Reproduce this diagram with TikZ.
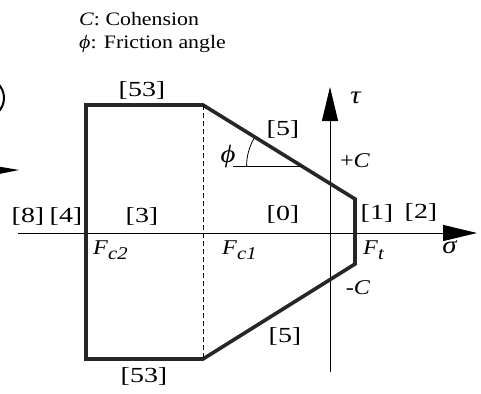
\documentclass[tikz,border=0pt]{standalone}
\usepackage{fontspec}
\setmainfont[FakeStretch=1.15]{Liberation Serif}
\newfontfamily\regionfont[FakeStretch=1.3]{Liberation Serif}
\usetikzlibrary{arrows.meta}

\newcommand{\fsub}[2]{\textit{#1}\raisebox{-0.45ex}{\fontsize{18}{18}\selectfont\textit{#2}}}

\begin{document}
\begin{tikzpicture}[
    x=1pt, y=-1pt,
    every node/.style={inner sep=0pt, font=\fontsize{21}{21}\selectfont},
    region/.style={font=\regionfont\fontsize{21.5}{21.5}\selectfont},
    greek/.style={anchor=base, font=\fontsize{25}{25}\selectfont},
    note/.style={anchor=west, font=\fontsize{19}{19}\selectfont},
    envelope/.style={line width=3.6pt, line join=miter, draw=black!85},
    axis/.style={line width=0.9pt, -{Triangle[length=34pt, width=16pt]}},
    cutoff/.style={dashed, dash pattern=on 5pt off 3pt, line width=0.9pt},
    fval/.style={anchor=north west}
  ]
  \useasboundingbox (0,0) rectangle (481,393);

  % fragments of the neighbouring figure
  \draw[line width=2pt] (-16,98) circle[radius=20];
  \fill (-16,164) -- (19,170) -- (-16,177) -- cycle;

  \node[note] (coh)  at (79,19) {\textit{C}: Cohension};
  \node[note] (fric) at (79,44) {\textit{ϕ}: Friction angle};

  % axes
  \coordinate (sig0) at (18,233);
  \coordinate (sig1) at (477,233);
  \coordinate (tau0) at (330,372);
  \coordinate (tau1) at (330,87);
  \draw[axis] (sig0) -- (sig1);
  \draw[axis] (tau0) -- (tau1);

  % yield envelope
  \coordinate (tl) at (86,105);
  \coordinate (tr) at (203,105);
  \coordinate (rt) at (355,199);
  \coordinate (rb) at (355,264);
  \coordinate (br) at (203,359);
  \coordinate (bl) at (86,359);
  \draw[envelope] (tl) -- (tr) -- (rt) -- (rb) -- (br) -- (bl) -- cycle;
  \draw[cutoff] (tr) -- (br);

  % friction angle
  \coordinate (phiv) at (301.6,166);
  \coordinate (phih) at (233,166);
  \draw[line width=0.8pt] (phih) -- (phiv);
  \draw[line width=0.8pt] (phiv) ++(-55,0) arc[start angle=180, end angle=211.7, radius=55];
  \node[greek] (phi) at (228,162) {\textit{ϕ}};

  % region numbers
  \node[region] (top53) at (142,90)  {[53]};
  \node[region] (bot53) at (144,376) {[53]};
  \node[region] (r8)    at (28,216)  {[8]};
  \node[region] (r4)    at (66,216)  {[4]};
  \node[region] (r3)    at (142,216) {[3]};
  \node[region] (r0)    at (283,214) {[0]};
  \node[region] (r1)    at (377,213) {[1]};
  \node[region] (r2)    at (421,212) {[2]};
  \node[region] (up5)   at (283,129) {[5]};
  \node[region] (lo5)   at (285,336) {[5]};

  \node (pc)  at (355,161) {+\textit{C}};
  \node (mc)  at (358,288) {-\textit{C}};
  \node[greek] (tau) at (356,103) {\textit{τ}};
  \node[greek] (sig) at (450,253) {\textit{σ}};

  \node[fval] (fc2) at (93,241)  {\fsub{F}{c2}};
  \node[fval] (fc1) at (222,241) {\fsub{F}{c1}};
  \node[fval] (ft)  at (363,241) {\fsub{F}{t}};
\end{tikzpicture}
\end{document}
